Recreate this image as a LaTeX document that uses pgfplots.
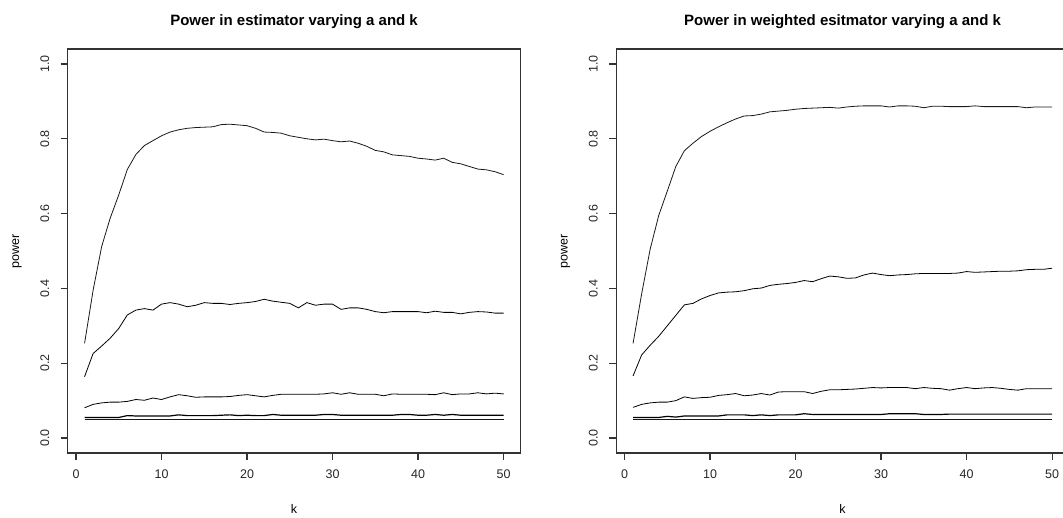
\documentclass[border=0pt]{standalone}
\usepackage{pgfplots}
\usepackage{pgfplotstable}
\pgfplotsset{compat=1.18}
\usepackage{fontspec}
\setmainfont{Liberation Sans}

\pgfplotstableread{
k c1 c2 c3 c4 c5
1 0.050 0.055 0.081 0.164 0.253
2 0.050 0.055 0.090 0.226 0.395
3 0.050 0.055 0.094 0.246 0.512
4 0.050 0.055 0.096 0.267 0.588
5 0.050 0.055 0.096 0.293 0.650
6 0.050 0.060 0.098 0.329 0.718
7 0.050 0.059 0.103 0.342 0.758
8 0.050 0.059 0.101 0.346 0.782
9 0.050 0.059 0.107 0.342 0.795
10 0.050 0.059 0.103 0.358 0.808
11 0.050 0.059 0.110 0.362 0.818
12 0.050 0.062 0.116 0.358 0.824
13 0.050 0.060 0.113 0.351 0.828
14 0.050 0.060 0.109 0.355 0.830
15 0.050 0.060 0.110 0.362 0.831
16 0.050 0.060 0.110 0.360 0.832
17 0.050 0.061 0.110 0.360 0.838
18 0.050 0.062 0.111 0.357 0.839
19 0.050 0.060 0.114 0.360 0.837
20 0.050 0.061 0.116 0.362 0.835
21 0.050 0.060 0.113 0.365 0.828
22 0.050 0.060 0.110 0.371 0.818
23 0.050 0.063 0.114 0.366 0.817
24 0.050 0.061 0.117 0.363 0.815
25 0.050 0.061 0.117 0.360 0.808
26 0.050 0.061 0.117 0.348 0.804
27 0.050 0.061 0.117 0.362 0.800
28 0.050 0.061 0.117 0.355 0.797
29 0.050 0.063 0.118 0.358 0.799
30 0.050 0.063 0.121 0.358 0.795
31 0.050 0.061 0.117 0.344 0.792
32 0.050 0.061 0.121 0.348 0.794
33 0.050 0.061 0.117 0.348 0.788
34 0.050 0.061 0.117 0.344 0.780
35 0.050 0.061 0.117 0.338 0.769
36 0.050 0.061 0.113 0.335 0.765
37 0.050 0.061 0.118 0.338 0.757
38 0.050 0.063 0.117 0.338 0.755
39 0.050 0.063 0.117 0.338 0.753
40 0.050 0.061 0.117 0.338 0.748
41 0.050 0.061 0.117 0.335 0.746
42 0.050 0.063 0.116 0.339 0.743
43 0.050 0.061 0.121 0.336 0.748
44 0.050 0.063 0.116 0.336 0.737
45 0.050 0.061 0.118 0.332 0.733
46 0.050 0.061 0.118 0.336 0.726
47 0.050 0.061 0.121 0.338 0.719
48 0.050 0.061 0.118 0.337 0.717
49 0.050 0.061 0.120 0.334 0.712
50 0.050 0.061 0.118 0.334 0.704
}\leftdata

\pgfplotstableread{
k c1 c2 c3 c4 c5
1 0.050 0.055 0.082 0.166 0.253
2 0.050 0.055 0.090 0.222 0.385
3 0.050 0.055 0.094 0.248 0.505
4 0.050 0.055 0.096 0.272 0.595
5 0.050 0.058 0.096 0.300 0.660
6 0.050 0.056 0.100 0.328 0.726
7 0.050 0.059 0.110 0.356 0.768
8 0.050 0.059 0.106 0.360 0.788
9 0.050 0.059 0.108 0.372 0.806
10 0.050 0.059 0.109 0.381 0.820
11 0.050 0.059 0.114 0.388 0.832
12 0.050 0.062 0.116 0.390 0.843
13 0.050 0.062 0.119 0.391 0.853
14 0.050 0.062 0.113 0.394 0.861
15 0.050 0.060 0.115 0.399 0.862
16 0.050 0.062 0.119 0.401 0.866
17 0.050 0.060 0.115 0.408 0.872
18 0.050 0.062 0.123 0.411 0.874
19 0.050 0.062 0.124 0.413 0.876
20 0.050 0.062 0.124 0.416 0.879
21 0.050 0.065 0.124 0.421 0.881
22 0.050 0.063 0.119 0.418 0.882
23 0.050 0.063 0.125 0.426 0.883
24 0.050 0.063 0.129 0.433 0.884
25 0.050 0.063 0.129 0.431 0.882
26 0.050 0.063 0.130 0.427 0.885
27 0.050 0.063 0.131 0.428 0.887
28 0.050 0.063 0.133 0.436 0.888
29 0.050 0.063 0.135 0.441 0.888
30 0.050 0.063 0.134 0.437 0.888
31 0.050 0.065 0.135 0.434 0.885
32 0.050 0.065 0.135 0.436 0.888
33 0.050 0.065 0.135 0.437 0.888
34 0.050 0.065 0.132 0.439 0.887
35 0.050 0.063 0.135 0.440 0.883
36 0.050 0.063 0.133 0.440 0.887
37 0.050 0.063 0.132 0.440 0.887
38 0.050 0.064 0.128 0.440 0.886
39 0.050 0.064 0.132 0.441 0.886
40 0.050 0.064 0.135 0.445 0.886
41 0.050 0.064 0.132 0.443 0.888
42 0.050 0.064 0.134 0.444 0.886
43 0.050 0.064 0.135 0.445 0.886
44 0.050 0.064 0.133 0.446 0.886
45 0.050 0.064 0.130 0.446 0.886
46 0.050 0.064 0.128 0.447 0.886
47 0.050 0.064 0.132 0.450 0.883
48 0.050 0.064 0.132 0.451 0.885
49 0.050 0.064 0.132 0.451 0.885
50 0.050 0.064 0.132 0.454 0.885
}\rightdata

\pgfplotsset{
  rpanel/.style={
    scale only axis,
    width=226.25pt, height=202pt,
    xmin=-0.96, xmax=51.96, ymin=-0.04, ymax=1.04,
    xtick={0,10,20,30,40,50},
    xticklabels={0,10,20,30,40,50},
    ytick={0,0.2,0.4,0.6,0.8,1},
    yticklabels={0.0,0.2,0.4,0.6,0.8,1.0},
    xtick pos=bottom, ytick pos=left,
    tick align=outside,
    major tick length=3.5pt,
    axis line style={black!80, line width=0.55pt},
    every tick/.style={black!80, line width=0.55pt},
    tick label style={font=\fontsize{6.25}{7}\selectfont, text=black!85},
    xticklabel style={anchor=base},
    xticklabel shift=9pt,
    yticklabel style={rotate=90, anchor=base},
    yticklabel shift=5.9pt,
    title style={at={(axis description cs:0.5,1)}, anchor=base, yshift=6pt,
                 font=\bfseries\fontsize{7.5}{9}\selectfont},
    xlabel style={at={(axis description cs:0.5,0)}, anchor=base, yshift=-30pt,
                  font=\fontsize{6.25}{7}\selectfont},
    ylabel style={at={([xshift=-24.4pt]axis description cs:0,0.5)}, rotate=0, anchor=base,
                  font=\fontsize{6.25}{7}\selectfont},
    xlabel={k}, ylabel={power},
    cycle list={{black!90, line width=0.6pt, no marks, sharp plot}},
  }
}

\begin{document}
\begin{tikzpicture}
\useasboundingbox (0,0) rectangle (531.5pt,-259pt);
\clip (0,0) rectangle (531.5pt,-259pt);
\begin{axis}[rpanel, at={(33.9pt,-226.5pt)}, anchor=south west,
  title={Power in estimator varying a and k}]
  \addplot table[x=k, y=c1] {\leftdata};
  \addplot table[x=k, y=c2] {\leftdata};
  \addplot table[x=k, y=c3] {\leftdata};
  \addplot table[x=k, y=c4] {\leftdata};
  \addplot table[x=k, y=c5] {\leftdata};
\end{axis}
\begin{axis}[rpanel, at={(308.15pt,-226.5pt)}, anchor=south west,
  title={Power in weighted esitmator varying a and k}]
  \addplot table[x=k, y=c1] {\rightdata};
  \addplot table[x=k, y=c2] {\rightdata};
  \addplot table[x=k, y=c3] {\rightdata};
  \addplot table[x=k, y=c4] {\rightdata};
  \addplot table[x=k, y=c5] {\rightdata};
\end{axis}
\end{tikzpicture}
\end{document}
